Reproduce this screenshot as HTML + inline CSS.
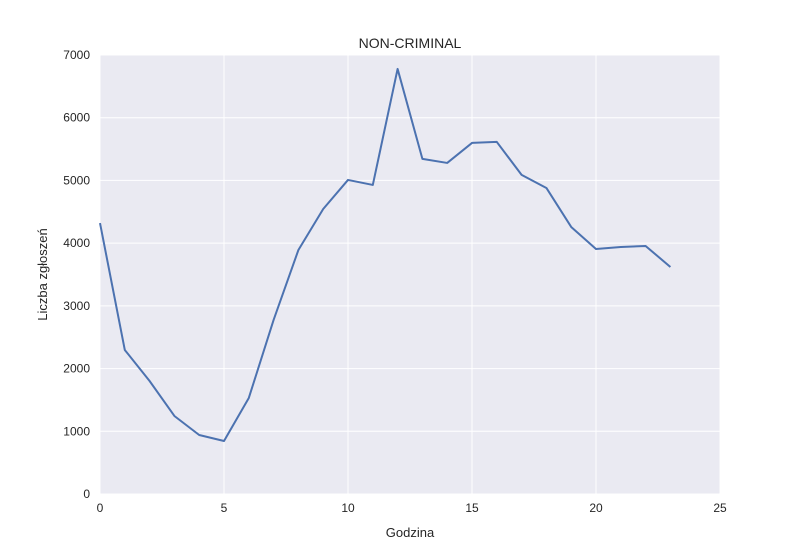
<!DOCTYPE html>
<html><head><meta charset="utf-8"><style>
body{margin:0;background:#fff;}
svg{display:block;font-family:"Liberation Sans",Arial,sans-serif;}
</style></head><body>
<svg id="chart" width="800" height="550" viewBox="0 0 800 550"></svg>
<script>
const hours=[0,1,2,3,4,5,6,7,8,9,10,11,12,13,14,15,16,17,18,19,20,21,22,23];
const counts=[4320,2297,1802,1244,941,845,1531,2775,3891,4545,5008,4928,6778,5343,5279,5598,5614,5088,4880,4258,3907,3939,3955,3620];
const xTicks=[0,5,10,15,20,25];
const yTicks=[0,1000,2000,3000,4000,5000,6000,7000];
const L=100,R=720,T=55,B=494;
const xs=v=>L+(v-0)/(25-0)*(R-L);
const ys=v=>B-(v-0)/(7000-0)*(B-T);
const svg=document.getElementById('chart');
const NS='http://www.w3.org/2000/svg';
function mk(t,a,txt){const e=document.createElementNS(NS,t);for(const k in a)e.setAttribute(k,a[k]);if(txt!==undefined)e.textContent=txt;svg.appendChild(e);return e;}
let e=mk('rect',{x:L,y:T,width:R-L,height:B-T,fill:'#eaeaf2'});


xTicks.forEach(t=>{
 let g=mk('line',{x1:xs(t),x2:xs(t),y1:T,y2:B,stroke:'#fff','stroke-width':1});
 
 
 let l=mk('text',{x:xs(t),y:B+18,'text-anchor':'middle','font-size':12,fill:'#262626'},t);
 
 
});
yTicks.forEach(t=>{
 let g=mk('line',{x1:L,x2:R,y1:ys(t),y2:ys(t),stroke:'#fff','stroke-width':1});
 
 
 let l=mk('text',{x:L-10,y:ys(t)+4,'text-anchor':'end','font-size':12,fill:'#262626'},t);
 
 
});
const pts=hours.map((h,i)=>xs(h)+','+ys(counts[i])).join(' ');
let p=mk('polyline',{points:pts,fill:'none',stroke:'#4c72b0','stroke-width':2,'stroke-linejoin':'round'});


let t1=mk('text',{x:(L+R)/2,y:48,'text-anchor':'middle','font-size':14,fill:'#262626'},'NON-CRIMINAL');


let t2=mk('text',{x:(L+R)/2,y:537,'text-anchor':'middle','font-size':13,fill:'#262626'},'Godzina');


let t3=mk('text',{x:47,y:(T+B)/2,'text-anchor':'middle','font-size':13,fill:'#262626',transform:'rotate(-90 47 '+((T+B)/2)+')'},'Liczba zgłoszeń');


</script>
</body></html>
